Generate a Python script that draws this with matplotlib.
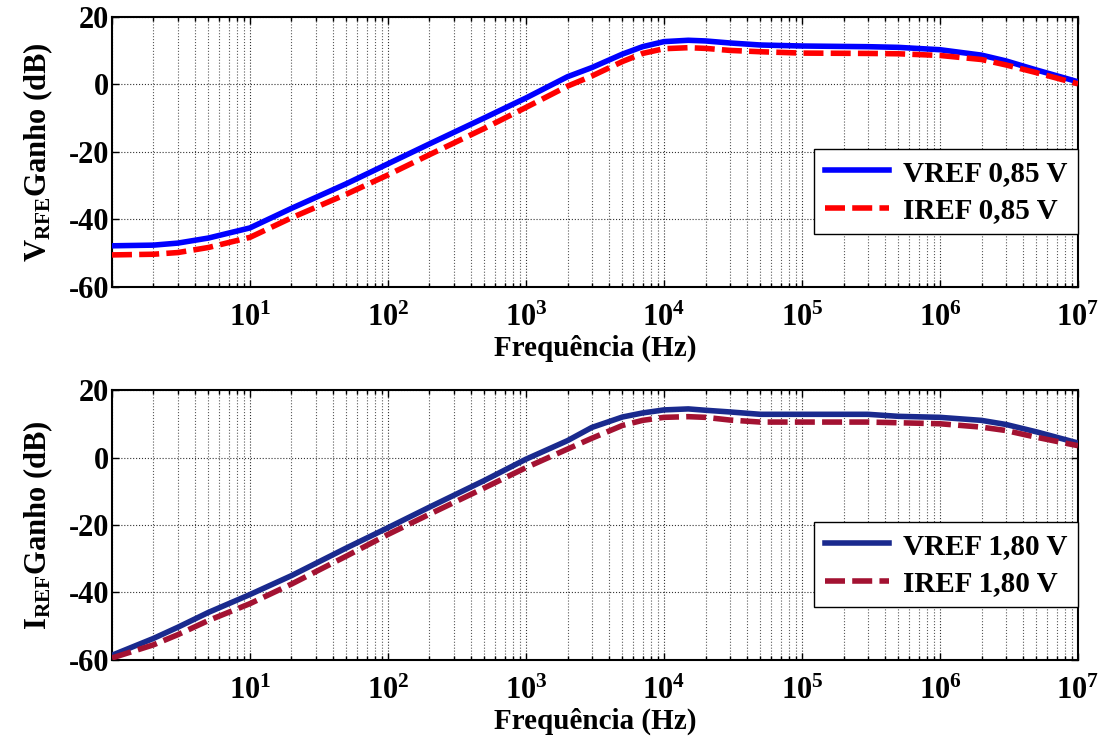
import numpy as np
import matplotlib
matplotlib.use("Agg")
import matplotlib.pyplot as plt
from matplotlib.ticker import FixedLocator, LogLocator, FuncFormatter, NullFormatter

plt.rcParams['font.family'] = ['Liberation Serif', 'DejaVu Serif']
plt.rcParams['font.weight'] = 'bold'
plt.rcParams['axes.unicode_minus'] = False
plt.rcParams['mathtext.fontset'] = 'custom'
plt.rcParams['mathtext.rm'] = 'Liberation Serif:bold'
plt.rcParams['mathtext.bf'] = 'Liberation Serif:bold'
plt.rcParams['mathtext.it'] = 'Liberation Serif:bold:italic'

# frequency points (Hz)
freq = [1, 2, 3, 5, 10, 20, 50, 100, 200, 500, 1e3, 2e3, 3e3, 5e3, 7e3,
        1e4, 1.5e4, 2e4, 3e4, 5e4, 1e5, 3e5, 5e5, 1e6, 2e6, 3e6, 5e6, 1e7]

# top panel: V_RFE gain (dB)
vref_085 = [-47.8, -47.6, -47.0, -45.5, -42.5, -36.7, -29.4, -23.5, -17.6, -9.9, -4.0,
            2.3, 5.0, 9.0, 11.2, 12.7, 13.1, 12.9, 12.3, 11.7, 11.4, 11.2, 11.0,
            10.3, 8.7, 7.0, 4.3, 0.8]
iref_085 = [-50.5, -50.3, -49.8, -48.3, -45.3, -39.5, -32.5, -26.8, -20.8, -13.0, -6.8,
            -0.5, 2.5, 6.8, 9.2, 10.6, 10.9, 10.7, 10.1, 9.7, 9.3, 9.2, 9.1,
            8.6, 7.4, 5.8, 3.5, 0.2]

# bottom panel: I_REF gain (dB)
vref_180 = [-58.6, -53.6, -50.3, -45.9, -40.6, -35.0, -26.8, -20.8, -14.7, -6.8, -0.5,
            5.0, 8.9, 12.0, 13.2, 14.1, 14.4, 14.0, 13.5, 12.8, 12.8, 12.8, 12.2,
            11.9, 11.0, 9.8, 7.6, 4.3]
iref_180 = [-59.4, -55.5, -52.5, -48.3, -43.3, -37.5, -29.2, -22.8, -16.8, -9.0, -3.0,
            2.5, 5.7, 9.5, 11.0, 11.9, 12.1, 11.9, 11.1, 10.5, 10.5, 10.5, 10.3,
            10.0, 9.0, 8.0, 6.0, 3.5]

yticks = [-60, -40, -20, 0, 20]
xmajor = [1e0, 1e1, 1e2, 1e3, 1e4, 1e5, 1e6, 1e7]

panels = [
    (vref_085, iref_085, 'VREF 0,85 V', 'IREF 0,85 V', '#0000FF', '#FF0000',
     r'$\mathbf{V}_{\mathbf{RFE}}$Ganho (dB)'),
    (vref_180, iref_180, 'VREF 1,80 V', 'IREF 1,80 V', '#1A2A8E', '#A31232',
     r'$\mathbf{I}_{\mathbf{REF}}$Ganho (dB)'),
]

fig = plt.figure(figsize=(11.03, 7.45), dpi=100)
positions = [[0.1015, 0.6148, 0.8758, 0.3624], [0.1015, 0.1141, 0.8758, 0.3624]]


def decade_label(v, pos):
    if v <= 1:
        return ''
    return r'$\mathbf{10^{%d}}$' % int(round(np.log10(v)))


for pos, (sv, sd, lv, ld, cv, cd, ylab) in zip(positions, panels):
    ax = fig.add_axes(pos)
    ax.semilogx(freq, sv, color=cv, lw=4, label=lv, zorder=3)
    ax.semilogx(freq, sd, color=cd, lw=4, ls=(0, (3.6, 1.3)), label=ld, zorder=3)

    ax.set_xlim(1, 1e7)
    ax.set_ylim(-60, 20)
    ax.xaxis.set_major_locator(FixedLocator(xmajor))
    ax.xaxis.set_minor_locator(LogLocator(base=10, subs=np.arange(2, 10), numticks=20))
    ax.xaxis.set_major_formatter(FuncFormatter(decade_label))
    ax.xaxis.set_minor_formatter(NullFormatter())
    ax.set_yticks(yticks)

    ax.grid(True, which='major', axis='both', ls=':', color='0.2', lw=0.8)
    ax.grid(True, which='minor', axis='x', ls=':', color='0.35', lw=0.8)

    ax.tick_params(which='both', direction='in', top=True, right=True,
                   labelsize=22, width=1)
    ax.tick_params(which='major', length=5)
    ax.tick_params(which='minor', length=3)
    ax.tick_params(axis='x', which='major', pad=12)
    ax.tick_params(axis='y', which='major', pad=2)
    for sp in ax.spines.values():
        sp.set_linewidth(1.5)

    ax.set_xlabel('Frequência (Hz)', fontsize=21, fontweight='bold', labelpad=1)
    ax.set_ylabel(ylab, fontsize=22, fontweight='bold', labelpad=10)

    leg = ax.legend(loc='lower right', bbox_to_anchor=(1.0, 0.196), borderaxespad=0,
                    fontsize=21, handlelength=2.2, fancybox=False, framealpha=1,
                    edgecolor='black', borderpad=0.35, labelspacing=0.35,
                    handletextpad=0.5)
    leg.get_frame().set_linewidth(1.0)
    for t in leg.get_texts():
        t.set_fontweight('bold')

fig.savefig('out.png', dpi=100)
